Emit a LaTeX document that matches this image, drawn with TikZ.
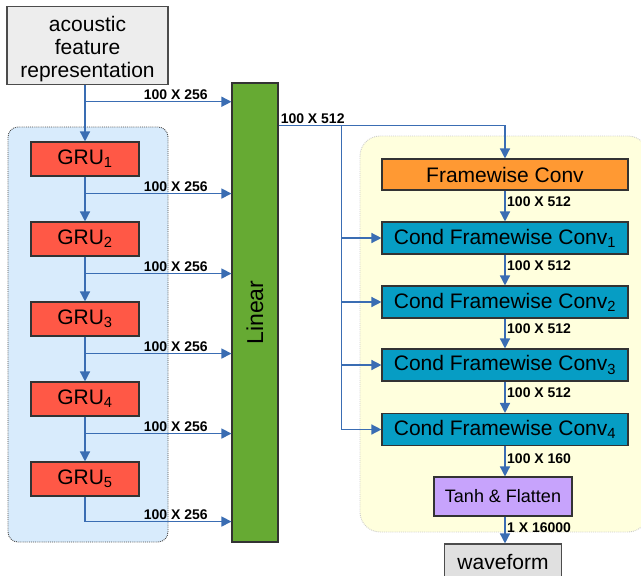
\documentclass[tikz,border=0pt]{standalone}
\usepackage{fontspec}
\setmainfont{Liberation Sans}
\usepackage{xcolor}
\usepackage{tikz}
\usetikzlibrary{positioning,arrows.meta,calc}
\definecolor{gruRed}{HTML}{FF5846}
\definecolor{linGreen}{HTML}{66AA33}
\definecolor{convOrange}{HTML}{FF9933}
\definecolor{condBlue}{HTML}{069DC4}
\definecolor{tanhPurple}{HTML}{C7A3FC}
\definecolor{inGray}{HTML}{EDEDED}
\definecolor{outGray}{HTML}{E0E0E0}
\definecolor{encPanel}{HTML}{D8EBFC}
\definecolor{decPanel}{HTML}{FFFFDD}
\definecolor{linkBlue}{HTML}{3A6DB3}
\tikzset{
  blk/.style ={rectangle, draw=black!80, line width=1.1pt, align=center, inner sep=2pt,
               font=\fontsize{21}{23}\selectfont},
  gru/.style ={blk, fill=gruRed, minimum width=108pt, minimum height=34pt},
  cond/.style={blk, fill=condBlue, minimum width=246pt, minimum height=32pt},
  io/.style  ={blk, draw=black!70},
  lbl/.style ={font=\fontsize{14}{16}\selectfont\bfseries, inner sep=1.5pt},
  flow/.style={-{Triangle[length=10pt,width=10pt]}, draw=linkBlue, line width=1.4pt},
  link/.style={draw=linkBlue, line width=1.4pt},
}

\begin{document}
\begin{tikzpicture}[x=1pt,y=-1pt]
\useasboundingbox (0,0) rectangle (641,576);
\clip (0,0) rectangle (641,576);
% --- panels ---
\draw[fill=encPanel, draw=black!70, densely dotted, line width=0.9pt, rounded corners=10pt] (8,127) rectangle (168,542);
\draw[fill=decPanel, draw=black!20, densely dotted, line width=0.9pt, rounded corners=20pt] (360,136) rectangle (648,532);
% --- encoder ---
\node[io, fill=inGray, minimum width=161pt, minimum height=75pt] (feat) at (87.5,45.5) {\rule{0pt}{23pt}acoustic\\feature\\representation};
\foreach \i in {1,...,5} {
  \node[gru] (gru\i) at (85,{159+80*(\i-1)}) {GRU\textsubscript{\i}};
}
\node[blk, fill=linGreen, minimum width=46pt, minimum height=459pt, font=\fontsize{23}{25}\selectfont] (linear) at (255,312.5) {\rotatebox{90}{Linear}};
% --- decoder ---
\node[blk, fill=convOrange, minimum width=246pt, minimum height=31pt] (fconv) at (505,174.5) {Framewise Conv};
\node[cond] (cond1) at (505,238) {Cond Framewise Conv\textsubscript{1}};
\node[cond] (cond2) at (505,302) {Cond Framewise Conv\textsubscript{2}};
\node[cond] (cond3) at (505,365) {Cond Framewise Conv\textsubscript{3}};
\node[cond] (cond4) at (505,429.5) {Cond Framewise Conv\textsubscript{4}};
\node[blk, fill=tanhPurple, minimum width=138pt, minimum height=39pt, font=\fontsize{18}{20}\selectfont] (tanh) at (503,496.5) {Tanh \& Flatten};
\node[io, fill=outGray, minimum width=117pt, minimum height=36pt] (wave) at (503,562) {waveform};
% encoder chain
\draw[flow] (feat.south -| gru1.north) -- (gru1.north);
\foreach \a/\b in {1/2,2/3,3/4,4/5} {\draw[flow] (gru\a.south) -- (gru\b.north);}
% skip outputs -> linear
\coordinate (s0) at ($(feat.south -| gru1.north)+(0,17)$);
\draw[flow] (s0) -- (s0 -| linear.west) node[lbl, above, pos=0.62] {100 X 256};
\foreach \i/\d in {1/17,2/17,3/17,4/17,5/25} {
  \coordinate (s\i) at ($(gru\i.south)+(0,\d)$);
  \draw[link] (gru\i.south) -- (s\i);
  \draw[flow] (s\i) -- (s\i -| linear.west) node[lbl, above, pos=0.62] {100 X 256};
}
% linear -> decoder
\coordinate (lo) at ($(linear.north east)+(0,43)$);
\coordinate (tr) at ($(lo)+(63,0)$);
\draw[flow] (lo) node[lbl, above right] {100 X 512} -| (fconv.north);
\draw[link] (tr) -- (tr |- cond4.west);
\foreach \i in {1,...,4} {\draw[flow] (tr |- cond\i.west) -- (cond\i.west);}
% decoder chain
\draw[flow] (fconv.south) -- node[lbl, right, pos=0.35] {100 X 512} (cond1.north);
\draw[flow] (cond1.south) -- node[lbl, right, pos=0.35] {100 X 512} (cond2.north);
\draw[flow] (cond2.south) -- node[lbl, right, pos=0.35] {100 X 512} (cond3.north);
\draw[flow] (cond3.south) -- node[lbl, right, pos=0.35] {100 X 512} (cond4.north);
\draw[flow] (cond4.south) -- node[lbl, right, pos=0.4] {100 X 160} (cond4.south |- tanh.north);
\draw[flow] (tanh.south -| cond4.south) -- node[lbl, right, pos=0.4] {1 X 16000} (cond4.south |- wave.north);
\end{tikzpicture}
\end{document}
